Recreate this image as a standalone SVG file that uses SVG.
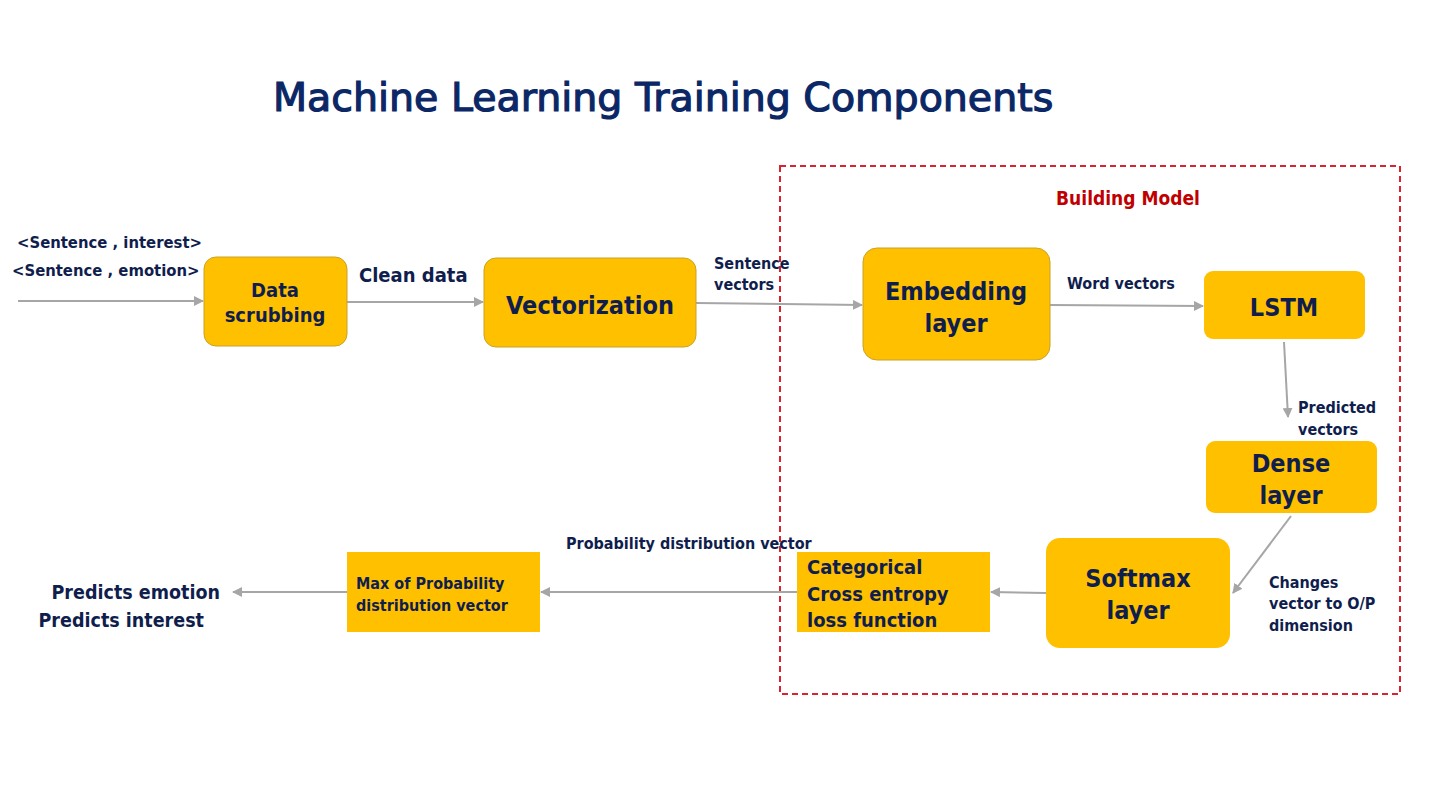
<svg xmlns="http://www.w3.org/2000/svg" width="1440" height="810" viewBox="0 0 1440 810">
<style>
text{font-family:"DejaVu Sans Condensed","DejaVu Sans","Liberation Sans",sans-serif;font-weight:bold;fill:#0F1E4D}
.t{fill:#0B2766;font-size:39.5px;font-family:"DejaVu Sans","Liberation Sans",sans-serif;font-weight:normal;stroke:#0B2766;stroke-width:1.2}
.s{font-size:16px}
.m{font-size:20px}
.l{font-size:25px}
.c{text-anchor:middle}
.box{fill:#FFC000;stroke:#C9A227;stroke-width:1}
.boxn{fill:#FFC000}
.conn line{stroke:#A6A6A6;stroke-width:2;marker-end:url(#ah)}
</style>
<defs>
<marker id="ah" viewBox="0 0 10 10" refX="9" refY="5" markerWidth="5" markerHeight="5" orient="auto" markerUnits="strokeWidth">
<path d="M0,0 L10,5 L0,10 z" fill="#A6A6A6"/>
</marker>
</defs>
<rect width="1440" height="810" fill="#FFFFFF"/>
<text class="t" x="273" y="111">Machine Learning Training Components</text>

<rect id="building-model" x="780" y="166" width="620" height="528" fill="none" stroke="#D9232E" stroke-width="2" stroke-dasharray="6,4"/>
<text class="c" x="1128" y="205" style="fill:#C00000;font-size:19px">Building Model</text>

<g class="conn">
<line x1="18" y1="301" x2="203" y2="301"/>
<line x1="347" y1="302" x2="483" y2="302"/>
<line x1="696" y1="303" x2="862" y2="305"/>
<line x1="1050" y1="305" x2="1203" y2="306"/>
<line x1="1284" y1="342" x2="1288" y2="417"/>
<line x1="1291" y1="516" x2="1233" y2="593"/>
<line x1="1046" y1="593" x2="991" y2="592"/>
<line x1="797" y1="592" x2="541" y2="592"/>
<line x1="347" y1="592" x2="233" y2="592"/>
</g>

<g id="input-label">
<text class="s" x="17" y="248" style="font-size:16.5px">&lt;Sentence , interest&gt;</text>
<text class="s" x="12" y="276" style="font-size:16.5px">&lt;Sentence , emotion&gt;</text>
</g>

<g id="data-scrubbing">
<rect class="box" x="204" y="257" width="143" height="89" rx="12"/>
<text class="m c" x="275" y="297">Data</text>
<text class="m c" x="275" y="322">scrubbing</text>
</g>
<text class="m" x="359" y="282">Clean data</text>

<g id="vectorization">
<rect class="box" x="484" y="258" width="212" height="89" rx="12"/>
<text class="l c" x="590" y="314">Vectorization</text>
</g>
<text class="s" x="714" y="269">Sentence</text>
<text class="s" x="714" y="290">vectors</text>

<g id="embedding-layer">
<rect class="box" x="863" y="248" width="187" height="112" rx="14"/>
<text class="l c" x="956" y="300">Embedding</text>
<text class="l c" x="956" y="332">layer</text>
</g>
<text class="s" x="1067" y="289">Word vectors</text>

<g id="lstm">
<rect class="boxn" x="1204" y="271" width="161" height="68" rx="9"/>
<text class="l c" x="1284" y="316">LSTM</text>
</g>
<text class="s" x="1298" y="413">Predicted</text>
<text class="s" x="1298" y="435">vectors</text>

<g id="dense-layer">
<rect class="boxn" x="1206" y="441" width="171" height="72" rx="9"/>
<text class="l c" x="1291" y="472">Dense</text>
<text class="l c" x="1291" y="504">layer</text>
</g>

<g id="softmax-layer">
<rect class="boxn" x="1046" y="538" width="184" height="110" rx="14"/>
<text class="l c" x="1138" y="587">Softmax</text>
<text class="l c" x="1138" y="619">layer</text>
</g>
<text class="s" x="1269" y="588">Changes</text>
<text class="s" x="1269" y="609">vector to O/P</text>
<text class="s" x="1269" y="631">dimension</text>

<g id="cross-entropy">
<rect class="boxn" x="797" y="552" width="193" height="80"/>
<text class="m" x="807" y="574">Categorical</text>
<text class="m" x="807" y="601">Cross entropy</text>
<text class="m" x="807" y="627">loss function</text>
</g>
<text class="s" x="566" y="549">Probability distribution vector</text>

<g id="max-probability">
<rect class="boxn" x="347" y="552" width="193" height="80"/>
<text class="s" x="356" y="589">Max of Probability</text>
<text class="s" x="356" y="611">distribution vector</text>
</g>

<g id="output-label">
<text class="m" x="220" y="599" style="text-anchor:end;font-size:19.5px">Predicts emotion</text>
<text class="m" x="204" y="627" style="text-anchor:end;font-size:19.5px">Predicts interest</text>
</g>
</svg>
